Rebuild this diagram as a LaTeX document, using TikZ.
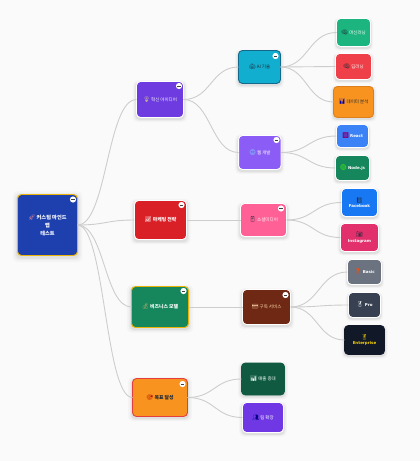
\documentclass[tikz,border=0pt]{standalone}
\usepackage{fontspec}
\setmainfont{Noto Sans CJK KR}
\newfontfamily\emjf{Noto Emoji}[BoldFont={Noto Emoji}]
\newfontfamily\latf{DejaVu Sans}
\usetikzlibrary{calc,shadows}
\definecolor{bgc}{HTML}{FAFAFA}
\definecolor{linec}{HTML}{CDCDCD}
\definecolor{croot}{HTML}{1E40AF}
\definecolor{cyel}{HTML}{EAB308}
\definecolor{cidea}{HTML}{6D3BE0}
\definecolor{cai}{HTML}{12AECF}
\definecolor{caib}{HTML}{14688C}
\definecolor{cweb}{HTML}{8B5CF6}
\definecolor{cml}{HTML}{1DB57F}
\definecolor{cdl}{HTML}{EF3F48}
\definecolor{cdata}{HTML}{F7931E}
\definecolor{cdatab}{HTML}{DD7F1B}
\definecolor{creact}{HTML}{3B82F6}
\definecolor{cnode}{HTML}{16875C}
\definecolor{cfb}{HTML}{1877F2}
\definecolor{cig}{HTML}{E1306C}
\definecolor{cmk}{HTML}{D92027}
\definecolor{csoc}{HTML}{FF6096}
\definecolor{csub}{HTML}{6E2813}
\definecolor{cbas}{HTML}{6B7280}
\definecolor{cpro}{HTML}{374151}
\definecolor{cent}{HTML}{111827}
\definecolor{cgold}{HTML}{FFD700}
\definecolor{cred}{HTML}{E53E3E}
\definecolor{csal}{HTML}{0F5A40}
\definecolor{cteam}{HTML}{7038E4}
\definecolor{ctxt}{HTML}{1F2937}
\newcommand{\emo}[2]{{\color{#1}\fontsize{5.6pt}{6pt}\selectfont\emjf\bfseries #2}}
\newcommand{\conn}[2]{\draw[connline] (#1.east) .. controls ($(#1.east)!0.5!(#2.west |- #1.east)$) and ($(#2.west)!0.5!(#1.east |- #2.west)$) .. (#2.west);}
\tikzset{
  softshadow/.style={
    drop shadow={shadow xshift=0pt,shadow yshift=-1.5pt,shadow scale=1.16,fill=black,opacity=.025},
    drop shadow={shadow xshift=0pt,shadow yshift=-1.5pt,shadow scale=1.10,fill=black,opacity=.035},
    drop shadow={shadow xshift=0pt,shadow yshift=-1.5pt,shadow scale=1.05,fill=black,opacity=.05}},
  box/.style={rounded corners=4pt,line width=.9pt,draw=white,inner sep=0pt,outer sep=0pt,
    align=center,font=\fontsize{4.5pt}{6pt}\selectfont,text=white,softshadow},
  connline/.style={draw=linec,line width=.9pt},
  fold/.style={circle,fill=white,minimum size=6.2pt,inner sep=0pt,outer sep=0pt,
    path picture={\draw[black!75,line width=.8pt]
    ($(path picture bounding box.center)+(-1.7pt,0)$) -- ($(path picture bounding box.center)+(1.7pt,0)$);}},
  latb/.style={font=\fontsize{4pt}{5.5pt}\selectfont\latf\bfseries},
  strong/.style={font=\fontsize{4.9pt}{6pt}\selectfont\bfseries},
}
\begin{document}
\begin{tikzpicture}[x=1pt,y=-1pt]
\useasboundingbox (0,0) rectangle (420,461);
\fill[bgc] (0,0) rectangle (420,461);
\node[box,fill=croot,draw=cyel,minimum width=60pt,minimum height=61pt,font=\fontsize{5.2pt}{8pt}\selectfont\bfseries] (root) at (47.5,225) {\emo{red!45!white}{🚀} 커스텀 마인드\\맵\\테스트};
\node[box,fill=cidea,minimum width=47pt,minimum height=36pt] (idea) at (160,99.5) {\emo{yellow!60}{💡} \textit{혁신 아이디어}};
\node[box,fill=cai,draw=caib,minimum width=42pt,minimum height=33pt,text=ctxt] (ai) at (259.5,67) {\emo{ctxt}{🤖} AI 기술};
\node[box,fill=cweb,minimum width=42.5pt,minimum height=34pt] (web) at (259.8,152.5) {\emo{cyan!50}{🌐} 웹 개발};
\node[box,fill=cml,minimum width=34pt,minimum height=28pt] (ml) at (353.5,32.5) {\emo{ctxt}{🧠} 머신러닝};
\node[box,fill=cdl,minimum width=36pt,minimum height=26pt] (dl) at (353.5,66.5) {\emo{ctxt}{🧠} 딥러닝};
\node[box,fill=cdata,draw=cdatab,minimum width=40pt,minimum height=31pt,text=ctxt] (data) at (353.5,102) {\emo{blue!70!black}{📊} 데이터 분석};
\node[box,fill=creact,minimum width=32pt,minimum height=23pt] (react) at (352.5,136) {\emo{violet}{⚛} {\fontsize{4pt}{5pt}\selectfont\latf\bfseries React}};
\node[box,fill=cnode,minimum width=34pt,minimum height=25pt] (nodejs) at (352.5,168) {\emo{green!70!yellow}{🟢} {\fontsize{4pt}{5pt}\selectfont\latf\bfseries Node.js}};
\node[box,fill=cmk,minimum width=52pt,minimum height=39pt,strong] (mkt) at (160.5,220) {\emo{white}{📈} 마케팅 전략};
\node[box,fill=csoc,minimum width=46pt,minimum height=33pt] (soc) at (263.5,220) {\emo{ctxt}{📱} 소셜미디어};
\node[box,fill=cfb,minimum width=36pt,minimum height=28pt,latb] (fb) at (359.5,202.5) {\emo{ctxt}{📘}\\Facebook};
\node[box,fill=cig,minimum width=38pt,minimum height=28pt,latb] (ig) at (359.5,237.5) {\emo{ctxt}{📷}\\Instagram};
\node[box,fill=cnode,draw=cyel,minimum width=57pt,minimum height=41pt,strong] (biz) at (160,307) {\emo{orange!60}{💰} 비즈니스 모델};
\node[box,fill=csub,minimum width=48pt,minimum height=35pt,text=orange!30] (sub) at (266.5,307) {\emo{orange!30}{💳} 구독 서비스};
\node[box,fill=cbas,minimum width=34pt,minimum height=25pt,latb] (bas) at (364.5,272) {\emo{orange!60!red}{🥉} Basic};
\node[box,fill=cpro,minimum width=32pt,minimum height=25pt,latb] (pro) at (364.5,305) {\emo{white}{🥈} Pro};
\node[box,fill=cent,draw=cent,minimum width=40pt,minimum height=29pt,latb,text=cgold] (ent) at (364.5,340) {\emo{cgold}{🥇}\\Enterprise};
\node[box,fill=cdata,draw=cred,minimum width=55pt,minimum height=38pt,text=ctxt,strong] (goal) at (160,397.5) {\emo{red!70!black}{🎯} 목표 달성};
\node[box,fill=csal,minimum width=43pt,minimum height=32pt,draw=csal] (sal) at (263,379) {\emo{white}{📊} 매출 증대};
\node[box,fill=cteam,minimum width=41pt,minimum height=30pt] (team) at (263,417.5) {\emo{blue!50!black}{👥} 팀 확장};
\conn{root}{idea}\conn{root}{mkt}\conn{root}{biz}\conn{root}{goal}
\conn{idea}{ai}\conn{idea}{web}
\conn{ai}{ml}\conn{ai}{dl}\conn{ai}{data}
\conn{web}{react}\conn{web}{nodejs}
\conn{mkt}{soc}\conn{soc}{fb}\conn{soc}{ig}
\conn{biz}{sub}\conn{sub}{bas}\conn{sub}{pro}\conn{sub}{ent}
\conn{goal}{sal}\conn{goal}{team}
\node[fold] (f1) at (73,199.5) {};
\node[fold] (f2) at (179,86) {};
\node[fold] (f3) at (275.5,56) {};
\node[fold] (f4) at (276.5,140) {};
\node[fold] (f5) at (181.5,205) {};
\node[fold] (f6) at (281,208.5) {};
\node[fold] (f7) at (183.5,291) {};
\node[fold] (f8) at (285.5,295) {};
\node[fold] (f9) at (182.5,384) {};
\end{tikzpicture}
\end{document}
